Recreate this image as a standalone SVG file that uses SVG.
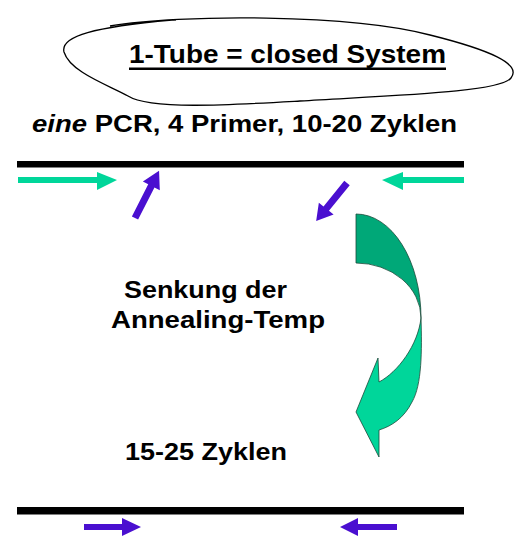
<svg xmlns="http://www.w3.org/2000/svg" width="520" height="546" viewBox="0 0 520 546">
<style>
.t{font-family:"Liberation Sans",Arial,sans-serif;font-weight:bold;fill:#000}
.strand{fill:#000}
.teal{fill:#00D69A}
.purple{fill:#4A0FD0}
</style>
<rect width="520" height="546" fill="#fff"/>
<g id="title">
<path d="M110,26 C180,14 350,14 430,35 C490,50 522,64 511,78 C500,92 400,95 300,101 C230,105 150,110 128,96 C108,85 70,72 64,52 C60,36 95,27 172,20 L176,20" fill="none" stroke="#000" stroke-width="1.3"/>
<text class="t" x="129" y="63" font-size="25" textLength="317" lengthAdjust="spacingAndGlyphs">1-Tube = closed System</text>
<rect x="129" y="67.5" width="317" height="2.5" fill="#000"/>
</g>
<g id="subtitle">
<text class="t" x="32" y="131.5" font-size="23" textLength="425" lengthAdjust="spacingAndGlyphs"><tspan font-style="italic">eine</tspan> PCR, 4 Primer, 10-20 Zyklen</text>
</g>
<g id="strand-top"><rect class="strand" x="17" y="161" width="447" height="6.5"/></g>
<g id="strand-bottom"><rect class="strand" x="17" y="507" width="447" height="7.5"/></g>
<g id="label-senkung">
<text class="t" x="124" y="297.5" font-size="24" textLength="163" lengthAdjust="spacingAndGlyphs">Senkung der</text>
<text class="t" x="111" y="328" font-size="24" textLength="214" lengthAdjust="spacingAndGlyphs">Annealing-Temp</text>
</g>
<g id="label-zyklen">
<text class="t" x="125" y="460" font-size="23" textLength="162" lengthAdjust="spacingAndGlyphs">15-25 Zyklen</text>
</g>
<g id="curved-arrow" stroke="#1a4a3a" stroke-width="0.8">
<path d="M356,214 A65,104 0 0 1 421,318 A65,55 0 0 0 356,263 Z" fill="#00A878"/>
<path d="M421,318 C422,350 422,385 412,402 C404,418 392,426 379,430 L379,457 L356,412 L378,358 L379,382 C398,372 418,345 421,318 Z" fill="#00D69A"/>
</g>
<g id="connectors">
<path class="teal" d="M18,177 L97,177 L97,172 L117,180 L97,190 L97,183 L18,183 Z"/>
<path class="teal" d="M464,177 L403,177 L403,172 L382,180 L403,190 L403,183 L464,183 Z"/>
<path class="purple" transform="translate(135,218) rotate(-63)" d="M0,-3.5 L36,-3.5 L36,-9.5 L53,0 L36,9.5 L36,3.5 L0,3.5 Z"/>
<path class="purple" transform="translate(347,183) rotate(129)" d="M0,-3.5 L33,-3.5 L33,-9.5 L49,0 L33,9.5 L33,3.5 L0,3.5 Z"/>
<path class="purple" d="M84,524 L122,524 L122,518 L141,527 L122,536 L122,530 L84,530 Z"/>
<path class="purple" d="M397,524 L358,524 L358,518 L340,527 L358,536 L358,530 L397,530 Z"/>
</g>
</svg>
